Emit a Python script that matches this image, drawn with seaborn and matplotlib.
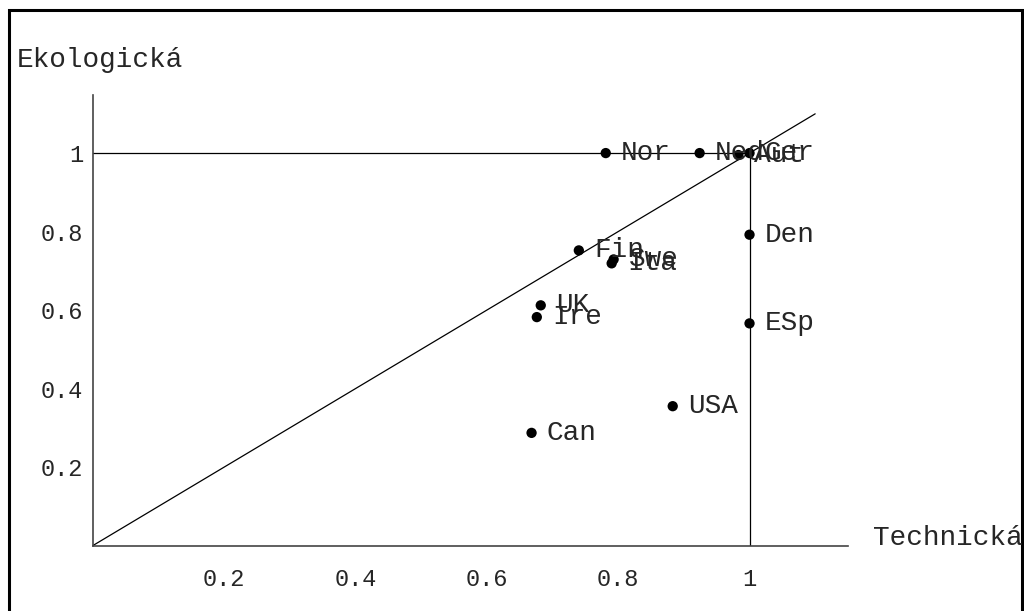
import matplotlib
matplotlib.use("Agg")
import matplotlib.pyplot as plt
import pandas as pd
import seaborn as sns
from matplotlib.patches import Rectangle
from matplotlib.ticker import MultipleLocator, FixedLocator

# ─── Data ─────────────────────────────────────────────────────────────────────
countries = ["Nor", "Ned", "Aut", "Ger", "Den", "ESp", "Fin", "Swe", "Ita",
             "UK", "Ire", "USA", "Can"]
technicka = [0.781, 0.924, 0.983, 1.0, 1.0, 1.0, 0.740, 0.793, 0.790,
             0.682, 0.676, 0.883, 0.668]
ekologicka = [1.0, 1.0, 0.995, 1.0, 0.792, 0.566, 0.752, 0.729, 0.719,
              0.612, 0.582, 0.355, 0.287]
diag_x = [0.0, 1.1]
frontier_x = [0.0, 1.0, 1.0]
frontier_y = [1.0, 1.0, 0.0]
x_ticks = [0.2, 0.4, 0.6, 0.8, 1.0]
x_tick_labels = ["0.2", "0.4", "0.6", "0.8", "1"]
y_ticks = [0.2, 0.4, 0.6, 0.8, 1.0]
y_tick_labels = ["0.2", "0.4", "0.6", "0.8", "1"]

df = pd.DataFrame({"country": countries, "tech": technicka, "eko": ekologicka})

# ─── Style ────────────────────────────────────────────────────────────────────
sns.set_style("white")
plt.rcParams["font.family"] = ["Liberation Mono", "DejaVu Sans Mono"]

fig = plt.figure(figsize=(10.24, 6.11), dpi=100)
ax = fig.add_axes([93 / 1024, 65.5 / 611, 755 / 1024, 450.5 / 611])

# reference lines: diagonal + frontier at 1
ax.plot(diag_x, diag_x, color="black", lw=0.9)
ax.plot(frontier_x, frontier_y, color="black", lw=0.9)

sns.scatterplot(data=df, x="tech", y="eko", color="black", s=55,
                edgecolor="none", ax=ax, zorder=3)

for _, row in df.iterrows():
    ax.annotate(row["country"], (row["tech"], row["eko"]),
                xytext=(11, 0), textcoords="offset points",
                va="center", ha="left", fontsize=20)

ax.set_xlim(0, 1.15)
ax.set_ylim(0, 1.148)
ax.set_xlabel("")
ax.set_ylabel("")

for side in ["top", "right"]:
    ax.spines[side].set_visible(False)
for side in ["left", "bottom"]:
    ax.spines[side].set_color("#444444")
    ax.spines[side].set_linewidth(1.2)

ax.xaxis.set_major_locator(FixedLocator(x_ticks))
ax.yaxis.set_major_locator(FixedLocator(y_ticks))
ax.set_xticklabels(x_tick_labels)
ax.set_yticklabels(y_tick_labels)
ax.xaxis.set_minor_locator(MultipleLocator(0.05))
ax.yaxis.set_minor_locator(MultipleLocator(0.05))
ax.tick_params(axis="both", which="major", direction="in", length=7,
               width=1, color="#444444", labelsize=17)
ax.tick_params(axis="both", which="minor", direction="in", length=4,
               width=1, color="#444444")
ax.tick_params(axis="x", which="major", pad=16)
ax.tick_params(axis="y", which="major", pad=7)

fig.text(17 / 1024, 1 - 60 / 611, "Ekologická", fontsize=20,
         ha="left", va="center")
fig.text(873 / 1024, 1 - 538 / 611, "Technická", fontsize=20,
         ha="left", va="center")

# outer frame
fig.patches.append(Rectangle((9 / 1024, -0.05), 1013 / 1024, 1 - 10 / 611 + 0.05,
                             transform=fig.transFigure, fill=False,
                             edgecolor="black", linewidth=2.2))

fig.savefig("out.png", dpi=100)
